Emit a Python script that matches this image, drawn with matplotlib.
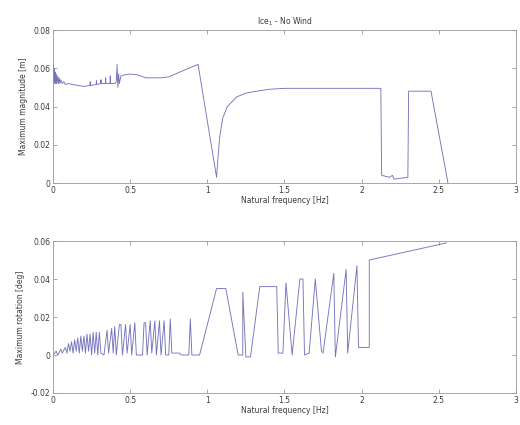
import matplotlib
matplotlib.use('Agg')
import matplotlib.pyplot as plt

# top panel: maximum magnitude vs natural frequency
mag_freq = [0.000, 0.003, 0.006, 0.009, 0.012, 0.015, 0.018, 0.021, 0.025, 0.030,
            0.035, 0.040, 0.045, 0.050, 0.060, 0.070, 0.080, 0.100, 0.130, 0.160,
            0.200, 0.240, 0.241, 0.242, 0.280, 0.281, 0.282, 0.310, 0.311, 0.312,
            0.340, 0.341, 0.342, 0.370, 0.371, 0.372, 0.400, 0.410, 0.415, 0.420,
            0.425, 0.430, 0.440, 0.460, 0.500, 0.550, 0.600, 0.700, 0.750, 0.850,
            0.940, 1.060, 1.070, 1.080, 1.100, 1.130, 1.190, 1.250, 1.320, 1.400,
            1.500, 2.125, 2.130, 2.180, 2.200, 2.210, 2.300, 2.305, 2.450, 2.560]
mag_val = [0.056, 0.062, 0.052, 0.060, 0.053, 0.058, 0.052, 0.057, 0.052, 0.056,
           0.052, 0.055, 0.052, 0.054, 0.052, 0.053, 0.0515, 0.052, 0.0515, 0.051,
           0.0505, 0.051, 0.053, 0.051, 0.0515, 0.0535, 0.0515, 0.052, 0.054, 0.052,
           0.052, 0.055, 0.052, 0.052, 0.056, 0.052, 0.052, 0.053, 0.062, 0.050,
           0.057, 0.052, 0.056, 0.0565, 0.057, 0.0565, 0.055, 0.055, 0.0555, 0.059,
           0.062, 0.003, 0.014, 0.024, 0.034, 0.040, 0.045, 0.047, 0.048, 0.049,
           0.0495, 0.0495, 0.004, 0.003, 0.004, 0.002, 0.003, 0.048, 0.048, 0.000]

# bottom panel: maximum rotation vs natural frequency
rot_freq = [0.00, 0.02, 0.03, 0.05, 0.06, 0.08, 0.09, 0.10, 0.11, 0.12,
            0.13, 0.14, 0.15, 0.16, 0.17, 0.18, 0.19, 0.20, 0.21, 0.22,
            0.23, 0.24, 0.25, 0.26, 0.27, 0.28, 0.29, 0.30, 0.31, 0.33,
            0.35, 0.36, 0.38, 0.39, 0.40, 0.41, 0.43, 0.44, 0.45, 0.47,
            0.48, 0.50, 0.51, 0.53, 0.54, 0.58, 0.59, 0.60, 0.61, 0.63,
            0.64, 0.66, 0.67, 0.69, 0.70, 0.72, 0.73, 0.75, 0.76, 0.77,
            0.82, 0.83, 0.88, 0.89, 0.90, 0.95, 1.06, 1.12, 1.20, 1.23,
            1.23, 1.25, 1.28, 1.34, 1.45, 1.46, 1.49, 1.51, 1.55, 1.60,
            1.62, 1.63, 1.66, 1.70, 1.74, 1.75, 1.82, 1.83, 1.90, 1.91,
            1.97, 1.98, 2.05, 2.05, 2.55]
rot_val = [0.000, 0.002, 0.000, 0.003, 0.001, 0.004, 0.001, 0.006, 0.002, 0.007,
           0.001, 0.008, 0.002, 0.009, 0.001, 0.010, 0.002, 0.010, 0.001, 0.011,
           0.002, 0.011, 0.000, 0.012, 0.001, 0.012, 0.000, 0.012, 0.001, 0.000,
           0.013, 0.001, 0.014, 0.001, 0.015, 0.000, 0.016, 0.016, 0.000, 0.016,
           0.001, 0.016, 0.000, 0.017, 0.000, 0.000, 0.017, 0.017, 0.000, 0.018,
           0.001, 0.018, 0.000, 0.018, 0.000, 0.018, 0.000, 0.000, 0.019, 0.001,
           0.001, 0.000, 0.000, 0.019, 0.000, 0.000, 0.035, 0.035, 0.000, 0.000,
           0.033, -0.001, -0.001, 0.036, 0.036, 0.001, 0.001, 0.038, 0.000, 0.040,
           0.040, 0.000, 0.001, 0.040, 0.002, 0.001, 0.043, -0.001, 0.045, 0.001,
           0.047, 0.004, 0.004, 0.050, 0.059]

line_color = '#7474bc'
text_color = '#3a3a3a'
tick_size = 5.5

fig = plt.figure(figsize=(5.2, 4.25), dpi=100)
ax1 = fig.add_axes([0.102, 0.5694, 0.890, 0.360])
ax2 = fig.add_axes([0.102, 0.0753, 0.890, 0.3576])

ax1.plot(mag_freq, mag_val, color=line_color, lw=0.65)
ax1.set_xlim(0, 3)
ax1.set_ylim(0, 0.08)
ax1.set_yticks([0, 0.02, 0.04, 0.06, 0.08])
ax1.set_yticklabels(['0', '0.02', '0.04', '0.06', '0.08'])
ax1.set_ylabel('Maximum magnitude [m]', fontsize=tick_size, color=text_color)
ax1.set_xlabel('Natural frequency [Hz]', fontsize=tick_size, color=text_color, labelpad=1)
ax1.set_title('Ice$_1$ - No Wind', fontsize=tick_size, color=text_color, pad=4)

ax2.plot(rot_freq, rot_val, color=line_color, lw=0.65)
ax2.set_xlim(0, 3)
ax2.set_ylim(-0.02, 0.06)
ax2.set_yticks([-0.02, 0, 0.02, 0.04, 0.06])
ax2.set_yticklabels(['-0.02', '0', '0.02', '0.04', '0.06'])
ax2.set_ylabel('Maximum rotation [deg]', fontsize=tick_size, color=text_color)
ax2.set_xlabel('Natural frequency [Hz]', fontsize=tick_size, color=text_color, labelpad=1)

for ax in (ax1, ax2):
    ax.set_xticks([0, 0.5, 1, 1.5, 2, 2.5, 3])
    ax.set_xticklabels(['0', '0.5', '1', '1.5', '2', '2.5', '3'])
    ax.tick_params(direction='in', length=3, width=0.5, labelsize=tick_size,
                   colors='#888888', labelcolor=text_color, top=True, right=True, pad=2)
    for s in ax.spines.values():
        s.set_color('#999999')
        s.set_linewidth(0.6)

fig.savefig('out.png', dpi=100)
